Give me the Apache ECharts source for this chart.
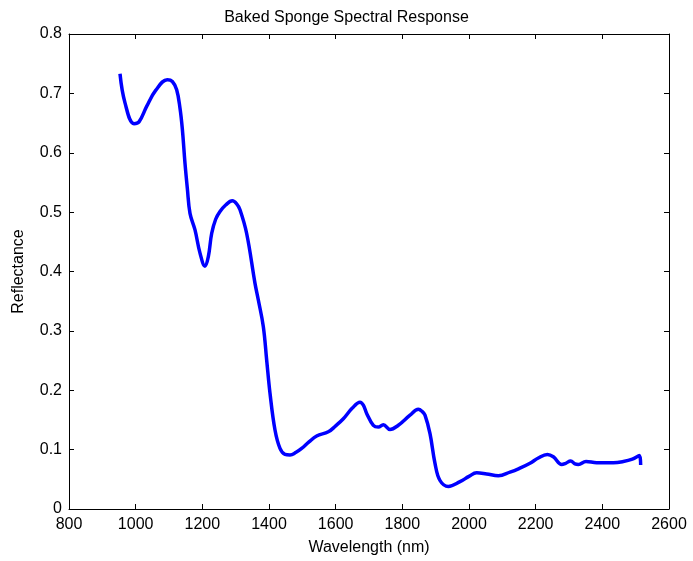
<!DOCTYPE html>
<html><head><meta charset="utf-8">
<script src="https://cdn.jsdelivr.net/npm/echarts@6/dist/echarts.min.js"></script>
<style>html,body{margin:0;padding:0;background:#fff}#c{width:693px;height:561px}</style>
</head><body><div id="c"></div>
<script>
const wavelength = [953,968,995,1010,1033,1060,1095,1110,1123,1133,1140,1148,1155,1163,1178,1193,1208,1218,1228,1240,1253,1270,1290,1303,1313,1333,1358,1368,1383,1393,1403,1418,1433,1448,1463,1480,1498,1520,1543,1578,1600,1623,1650,1673,1683,1693,1713,1728,1743,1763,1788,1823,1848,1860,1868,1883,1898,1913,1938,1973,2000,2023,2053,2088,2123,2150,2183,2208,2235,2253,2278,2290,2305,2318,2328,2351,2383,2433,2463,2490,2511,2515];
const reflectance = [0.733,0.684,0.649,0.652,0.678,0.705,0.723,0.720,0.706,0.675,0.640,0.582,0.540,0.498,0.470,0.431,0.409,0.425,0.464,0.488,0.501,0.512,0.519,0.514,0.504,0.464,0.380,0.352,0.307,0.251,0.195,0.133,0.102,0.092,0.091,0.095,0.102,0.113,0.123,0.130,0.140,0.152,0.170,0.180,0.175,0.161,0.141,0.138,0.142,0.134,0.141,0.158,0.168,0.164,0.158,0.127,0.077,0.048,0.038,0.046,0.055,0.061,0.059,0.056,0.062,0.068,0.077,0.086,0.092,0.088,0.075,0.077,0.081,0.076,0.075,0.080,0.078,0.078,0.080,0.084,0.090,0.074];
const titleText = 'Baked Sponge Spectral Response';
const xName = 'Wavelength (nm)';
const yName = 'Reflectance';

const data = wavelength.map((w,i)=>[w, reflectance[i]]);
const font = 'Liberation Sans, Arial, Helvetica, sans-serif';
const axCommon = {
  axisLine:{show:true,onZero:false,lineStyle:{color:'#000',width:1}},
  axisTick:{show:true,inside:true,length:5,lineStyle:{color:'#000'}},
  splitLine:{show:false}
};
const chart = echarts.init(document.getElementById('c'));
chart.setOption({
  animation:false,
  title:{text:titleText,left:'center',top:5,textStyle:{fontFamily:font,fontSize:16,fontWeight:'normal',color:'#000'}},
  grid:{left:69,right:24,top:34,bottom:52},
  xAxis:[
    Object.assign({type:'value',min:800,max:2600,interval:200,position:'bottom',
      name:xName,nameLocation:'middle',nameGap:31,
      nameTextStyle:{fontFamily:font,fontSize:16,color:'#000'},
      axisLabel:{fontFamily:font,fontSize:16,color:'#000',margin:8,formatter:v=>String(v)}},axCommon),
    Object.assign({type:'value',min:800,max:2600,interval:200,position:'top',axisLabel:{show:false}},axCommon)
  ],
  yAxis:[
    Object.assign({type:'value',min:0,max:0.8,interval:0.1,position:'left',
      name:yName,nameLocation:'middle',nameGap:42,
      nameTextStyle:{fontFamily:font,fontSize:16,color:'#000'},
      axisLabel:{fontFamily:font,fontSize:16,color:'#000',margin:7,formatter:v=>String(Math.round(v*10)/10)}},axCommon),
    Object.assign({type:'value',min:0,max:0.8,interval:0.1,position:'right',axisLabel:{show:false}},axCommon)
  ],
  series:[{type:'line',data:data,smooth:0.4,showSymbol:false,lineStyle:{color:'#0000ff',width:3.5},itemStyle:{color:'#0000ff'}}]
});
</script></body></html>
